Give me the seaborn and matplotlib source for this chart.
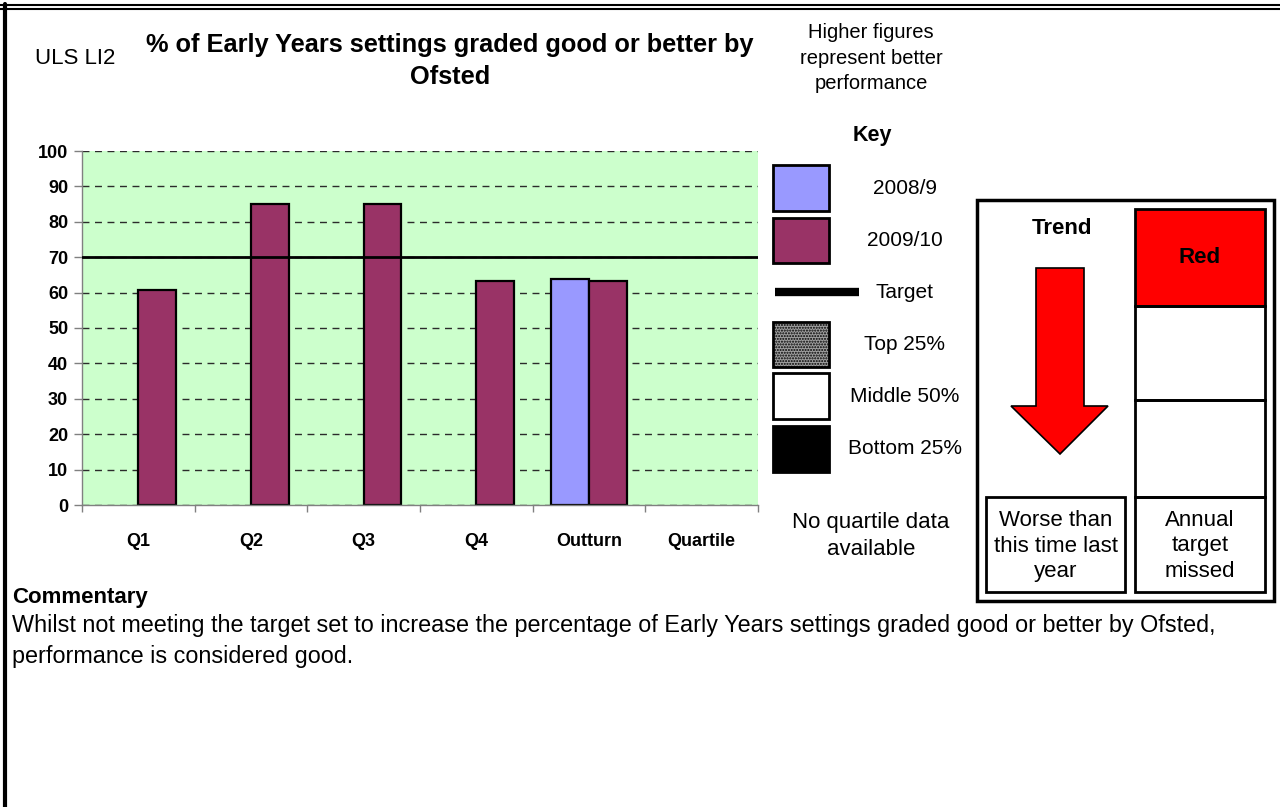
import numpy as np
import pandas as pd
import matplotlib
matplotlib.use("Agg")
import matplotlib.pyplot as plt
import seaborn as sns
from matplotlib.patches import Rectangle, Polygon
from matplotlib.lines import Line2D

# =====================================================
# DATA
# =====================================================

periods = ["Q1", "Q2", "Q3", "Q4", "Outturn", "Quartile"]
years = ["2008/9", "2009/10"]

period_0809 = ["Outturn"]
values_0809 = [63.8]

period_0910 = ["Q1", "Q2", "Q3", "Q4", "Outturn"]
values_0910 = [60.7, 85.0, 85.0, 63.3, 63.3]

target = 70

key_labels = ["2008/9", "2009/10", "Target", "Top 25%", "Middle 50%", "Bottom 25%"]

commentary = (
    "Whilst not meeting the target set to increase the percentage of Early Years "
    "settings graded good or better by Ofsted,\nperformance is considered good."
)

df = pd.concat([
    pd.DataFrame({"period": period_0809, "value": values_0809, "year": "2008/9"}),
    pd.DataFrame({"period": period_0910, "value": values_0910, "year": "2009/10"}),
])

# =====================================================
# FIGURE
# =====================================================

sns.set_style("white")
plt.rcParams["font.family"] = ["Liberation Sans", "DejaVu Sans"]
plt.rcParams["text.color"] = "black"
plt.rcParams["xtick.color"] = "black"
plt.rcParams["ytick.color"] = "black"
plt.rcParams["axes.labelcolor"] = "black"

W, H = 1280, 807
fig = plt.figure(figsize=(12.8, 8.07), dpi=100)


def fx(x):
    return x / W


def fy(y):
    return 1 - y / H


ax = fig.add_axes([fx(82), fy(505), (758 - 82) / W, (505 - 151) / H])
ax.set_facecolor("#CCFFCC")
ax.set_axisbelow(True)

sns.barplot(
    data=df,
    x="period",
    y="value",
    hue="year",
    order=periods,
    hue_order=years,
    palette=["#9999FF", "#993366"],
    saturation=1,
    width=0.667,
    edgecolor="black",
    linewidth=1.6,
    legend=False,
    ax=ax
)

ax.axhline(target, color="black", lw=2, zorder=5)

ax.set_xlim(-0.5, 5.5)
ax.set_ylim(0, 100)
ax.set_yticks(range(0, 101, 10))
ax.yaxis.grid(True, linestyle=(0, (5, 4)), color="#2b2b2b", lw=1)
ax.xaxis.grid(False)

ax.set_xlabel("")
ax.set_ylabel("")

for s in ["top", "right"]:
    ax.spines[s].set_visible(False)
for s in ["left", "bottom"]:
    ax.spines[s].set_color("#808080")
    ax.spines[s].set_linewidth(1)

ax.tick_params(axis="y", which="major", length=6, width=1, color="#808080",
               labelcolor="black", direction="out", left=True, pad=4,
               labelsize=13)
ax.tick_params(axis="x", which="major", length=0, pad=20, labelsize=13,
               labelcolor="black")
ax.set_xticks(np.arange(-0.5, 6, 1), minor=True)
ax.tick_params(axis="x", which="minor", length=5, width=1, color="#808080",
               direction="out", bottom=True)

for lab in ax.get_xticklabels() + ax.get_yticklabels():
    lab.set_fontweight("bold")

# =====================================================
# HEADER TEXT
# =====================================================

fig.text(fx(75), fy(59), "ULS LI2", ha="center", va="center", fontsize=16)
fig.text(fx(450), fy(61),
         "% of Early Years settings graded good or better by\nOfsted",
         ha="center", va="center", fontsize=18.3, fontweight="bold",
         linespacing=1.45)
fig.text(fx(871), fy(58), "Higher figures\nrepresent better\nperformance",
         ha="center", va="center", fontsize=14.5, linespacing=1.45)

# page border
fig.add_artist(Line2D([0, 1], [fy(4.5), fy(4.5)], color="black", lw=1.5))
fig.add_artist(Line2D([0, 1], [fy(8.5), fy(8.5)], color="black", lw=1.5))
fig.add_artist(Line2D([fx(4.5), fx(4.5)], [fy(4), 0], color="black", lw=3))

# =====================================================
# KEY
# =====================================================

fig.text(fx(872), fy(136), "Key", ha="center", va="center",
         fontsize=15.5, fontweight="bold")

swatches = [
    (165, 211, "#9999FF", None),
    (218, 263, "#993366", None),
    (322, 367, "#A0A0A0", "......"),
    (373, 419, "white", None),
    (426, 472, "black", None),
]
for top, bot, col, hatch in swatches:
    fig.add_artist(Rectangle((fx(773), fy(bot)), (829 - 773) / W, (bot - top) / H,
                             facecolor=col, edgecolor="black", lw=2,
                             hatch=hatch, transform=fig.transFigure))

fig.add_artist(Line2D([fx(775), fx(859)], [fy(292), fy(292)],
                      color="black", lw=6, solid_capstyle="butt"))

label_y = [188, 241, 293, 344, 396, 449]
for lab, y in zip(key_labels, label_y):
    fig.text(fx(905), fy(y), lab, ha="center", va="center", fontsize=15)

fig.text(fx(871), fy(536), "No quartile data\navailable", ha="center",
         va="center", fontsize=16, linespacing=1.4)

# =====================================================
# TREND BOX
# =====================================================


def box(x0, y0, x1, y1, lw=2, fc="none"):
    fig.add_artist(Rectangle((fx(x0), fy(y1)), (x1 - x0) / W, (y1 - y0) / H,
                             facecolor=fc, edgecolor="black", lw=lw,
                             transform=fig.transFigure))


box(977, 200, 1274, 601, lw=2.5)
box(1135, 209, 1265, 306, lw=2, fc="#FF0000")
box(1135, 306, 1265, 400, lw=2)
box(1135, 400, 1265, 497, lw=2)
box(1135, 497, 1265, 592, lw=2)
box(986, 497, 1125, 592, lw=2)

fig.text(fx(1062), fy(228), "Trend", ha="center", va="center",
         fontsize=16, fontweight="bold")
fig.text(fx(1200), fy(258), "Red", ha="center", va="center",
         fontsize=16, fontweight="bold")

arrow_pts = [(1036, 268), (1084, 268), (1084, 406), (1108, 406),
             (1060, 454), (1011, 406), (1036, 406)]
fig.add_artist(Polygon([(fx(x), fy(y)) for x, y in arrow_pts], closed=True,
                       facecolor="#FF0000", edgecolor="black", lw=1.2,
                       transform=fig.transFigure))

fig.text(fx(1056), fy(546), "Worse than\nthis time last\nyear", ha="center",
         va="center", fontsize=16, linespacing=1.3)
fig.text(fx(1200), fy(546), "Annual\ntarget\nmissed", ha="center",
         va="center", fontsize=16, linespacing=1.3)

# =====================================================
# COMMENTARY
# =====================================================

fig.text(fx(12), fy(597), "Commentary", ha="left", va="center",
         fontsize=16, fontweight="bold")
fig.text(fx(12), fy(641), commentary, ha="left", va="center",
         fontsize=16.8, linespacing=1.4)

fig.savefig("out.png", dpi=100, facecolor="white")
